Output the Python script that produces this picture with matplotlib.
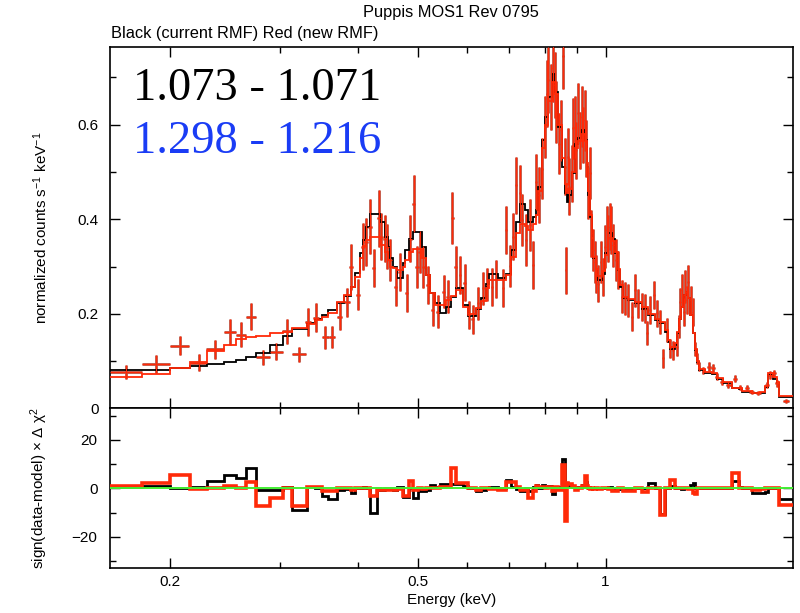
"""
Puppis MOS1 Rev 0795: spectrum with two RMFs (top) and sign*delta-chi2 residuals (bottom).
"""

import matplotlib
matplotlib.use("Agg")
import matplotlib.pyplot as plt
import numpy as np
from matplotlib.ticker import FixedLocator, FixedFormatter, NullFormatter

plt.rcParams["font.family"] = ["Liberation Sans", "DejaVu Sans"]
plt.rcParams["mathtext.fontset"] = "custom"
plt.rcParams["mathtext.rm"] = "Liberation Sans"
plt.rcParams["mathtext.it"] = "Liberation Sans:italic"

# Model bins (keV edges), folded models and residuals per bin
bin_edges = [
    0.160, 0.180, 0.200, 0.215, 0.229, 0.244, 0.255, 0.265, 0.275, 0.289,
    0.303, 0.314, 0.331, 0.341, 0.350, 0.358, 0.370, 0.380, 0.390, 0.396,
    0.403, 0.408, 0.413, 0.418, 0.430, 0.435, 0.442, 0.447, 0.451, 0.455,
    0.462, 0.472, 0.477, 0.484, 0.491, 0.499, 0.507, 0.514, 0.522, 0.532,
    0.542, 0.554, 0.564, 0.575, 0.590, 0.601, 0.619, 0.630, 0.642, 0.650,
    0.671, 0.692, 0.705, 0.717, 0.728, 0.742, 0.750, 0.764, 0.772, 0.778,
    0.790, 0.799, 0.808, 0.820, 0.829, 0.838, 0.851, 0.860, 0.866, 0.872,
    0.883, 0.893, 0.903, 0.916, 0.926, 0.933, 0.938, 0.944, 0.951, 0.956,
    0.965, 0.972, 0.986, 0.998, 1.009, 1.024, 1.035, 1.047, 1.054, 1.066,
    1.086, 1.115, 1.144, 1.170, 1.200, 1.223, 1.246, 1.259, 1.271, 1.293,
    1.302, 1.312, 1.324, 1.336, 1.346, 1.356, 1.366, 1.380, 1.390, 1.400,
    1.413, 1.444, 1.482, 1.510, 1.544, 1.596, 1.638, 1.656, 1.719, 1.770,
    1.803, 1.824, 1.858, 1.886, 1.900, 2.000,
]
model_current = [
    0.081, 0.082, 0.086, 0.090, 0.094, 0.099, 0.102, 0.109, 0.118, 0.134,
    0.153, 0.167, 0.180, 0.190, 0.197, 0.208, 0.222, 0.237, 0.256, 0.287,
    0.328, 0.356, 0.384, 0.412, 0.412, 0.395, 0.363, 0.342, 0.317, 0.299,
    0.275, 0.307, 0.335, 0.359, 0.373, 0.373, 0.342, 0.282, 0.243, 0.222,
    0.201, 0.215, 0.236, 0.254, 0.218, 0.195, 0.211, 0.233, 0.264, 0.285,
    0.275, 0.285, 0.335, 0.395, 0.433, 0.419, 0.395, 0.405, 0.419, 0.469,
    0.567, 0.617, 0.659, 0.708, 0.669, 0.595, 0.511, 0.455, 0.437, 0.451,
    0.497, 0.560, 0.571, 0.588, 0.567, 0.511, 0.451, 0.405, 0.356, 0.317,
    0.292, 0.271, 0.285, 0.328, 0.370, 0.359, 0.328, 0.292, 0.257, 0.233,
    0.229, 0.222, 0.211, 0.197, 0.187, 0.180, 0.162, 0.141, 0.125, 0.135,
    0.160, 0.190, 0.215, 0.240, 0.247, 0.233, 0.197, 0.159, 0.123, 0.099,
    0.081, 0.075, 0.073, 0.063, 0.053, 0.042, 0.040, 0.035, 0.032, 0.033,
    0.046, 0.070, 0.063, 0.053, 0.025,
]
model_new = [
    0.066, 0.073, 0.086, 0.099, 0.121, 0.135, 0.146, 0.150, 0.154, 0.159,
    0.161, 0.170, 0.178, 0.186, 0.194, 0.202, 0.225, 0.240, 0.257, 0.278,
    0.317, 0.343, 0.356, 0.363, 0.363, 0.345, 0.330, 0.314, 0.300, 0.296,
    0.292, 0.300, 0.314, 0.331, 0.336, 0.336, 0.317, 0.282, 0.244, 0.218,
    0.218, 0.229, 0.238, 0.250, 0.215, 0.200, 0.212, 0.228, 0.255, 0.271,
    0.271, 0.283, 0.320, 0.370, 0.390, 0.385, 0.377, 0.390, 0.410, 0.460,
    0.550, 0.600, 0.650, 0.690, 0.665, 0.600, 0.530, 0.475, 0.455, 0.465,
    0.500, 0.550, 0.565, 0.580, 0.565, 0.520, 0.460, 0.410, 0.360, 0.320,
    0.295, 0.280, 0.290, 0.325, 0.360, 0.355, 0.330, 0.295, 0.260, 0.235,
    0.232, 0.225, 0.214, 0.200, 0.190, 0.182, 0.165, 0.145, 0.130, 0.138,
    0.162, 0.190, 0.215, 0.240, 0.247, 0.233, 0.198, 0.160, 0.125, 0.101,
    0.083, 0.077, 0.075, 0.065, 0.055, 0.044, 0.042, 0.037, 0.033, 0.034,
    0.047, 0.074, 0.066, 0.056, 0.027,
]
resid_current = [
    0.6, 0.8, 0.2, 0.4, 2.9, 5.6, 4.3, 8.4, -0.5, -0.8,
    0.4, -8.8, 0.4, 0.3, -3.3, -4.6, -0.5, -0.3, -1.9, 0.2,
    0.3, 0.5, 0.2, -10.1, 0.3, -0.5, 0.3, -0.3, 0.2, -0.5,
    0.5, -3.6, -3.6, 0.3, -4.0, -1.2, -1.2, -0.5, 1.5, 0.5,
    1.8, 1.8, 1.8, 1.8, 0.8, 0.3, -1.3, -0.5, 0.0, 0.5,
    0.3, 3.3, 0.5, -0.3, -1.0, 0.3, -1.0, 0.5, 1.2, 0.3,
    1.5, 0.5, 0.8, -2.5, 0.3, 0.5, 12.0, 2.0, 2.0, 1.5,
    0.5, 0.3, 0.5, 1.5, 2.5, 0.5, 0.3, 0.2, 0.0, 0.3,
    0.0, 0.2, 0.0, 0.3, 0.5, 0.0, 0.2, -0.3, 0.0, 0.3,
    0.0, 0.3, 0.0, 2.0, 0.0, -10.5, 0.3, 0.3, 0.8, 0.0,
    0.3, 0.0, -0.3, 0.3, 0.0, 0.3, 1.5, 2.0, 0.3, 0.3,
    0.0, 0.0, 0.3, 0.0, 0.2, 2.9, 0.5, 0.0, -1.9, -1.9,
    -1.5, 0.0, 0.3, 0.0, -4.6,
]
resid_new = [
    1.1, 2.2, 5.6, -0.3, 0.1, 0.8, 0.2, 2.5, -7.4, -4.2,
    0.1, -7.1, 0.6, 0.5, -1.2, -1.2, 0.3, 0.2, -0.8, 0.0,
    0.2, 0.3, 0.1, -3.3, -0.3, -0.5, -0.3, -0.8, -0.5, -0.8,
    -0.3, -3.3, -3.3, 2.9, -0.8, 0.2, -0.3, 0.0, 0.3, 0.2,
    0.5, 0.5, 8.4, 2.3, 2.2, 0.0, -0.5, 0.3, 0.3, -0.3,
    -0.5, 2.5, 2.5, 0.5, -0.5, -0.5, -4.0, -1.0, 1.0, 0.5,
    0.5, 0.3, 0.5, -1.0, 0.5, -0.5, 9.7, -13.5, 2.0, 1.8,
    1.0, -0.5, 0.2, 1.0, 5.0, 0.8, 0.3, -0.3, 0.2, -0.3,
    0.3, -0.3, 0.0, 0.2, -0.3, -1.2, -1.2, 0.0, 0.3, -1.0,
    -1.0, 0.0, -1.5, 0.3, 0.0, -11.2, 0.3, 0.0, 3.5, 0.3,
    0.0, 0.3, 0.2, 0.0, 0.2, -0.3, -0.3, -2.0, -2.5, 0.0,
    0.3, 0.0, 0.2, 0.0, 0.0, 6.3, 0.3, 0.0, -0.5, -0.3,
    0.0, 0.3, 0.0, 0.0, -6.7,
]

# Data points (new RMF): energy, half bin width, rate, 1-sigma error
data_energy = [
    0.170, 0.190, 0.207, 0.222, 0.236, 0.249, 0.260, 0.270, 0.282, 0.296,
    0.308, 0.322, 0.333, 0.343, 0.355, 0.364, 0.374, 0.384, 0.390, 0.400,
    0.408, 0.413, 0.418, 0.424, 0.432, 0.436, 0.442, 0.446, 0.451, 0.460,
    0.467, 0.479, 0.486, 0.492, 0.498, 0.503, 0.510, 0.518, 0.528, 0.538,
    0.550, 0.558, 0.567, 0.575, 0.584, 0.594, 0.603, 0.612, 0.624, 0.636,
    0.645, 0.656, 0.668, 0.684, 0.693, 0.702, 0.710, 0.718, 0.728, 0.735,
    0.746, 0.756, 0.764, 0.773, 0.781, 0.792, 0.799, 0.804, 0.809, 0.816,
    0.822, 0.829, 0.834, 0.842, 0.847, 0.855, 0.860, 0.863, 0.871, 0.874,
    0.882, 0.887, 0.893, 0.898, 0.904, 0.909, 0.915, 0.920, 0.926, 0.932,
    0.938, 0.944, 0.949, 0.955, 0.961, 0.967, 0.973, 0.982, 0.989, 0.998,
    1.004, 1.010, 1.016, 1.022, 1.029, 1.038, 1.048, 1.061, 1.074, 1.087,
    1.101, 1.115, 1.128, 1.143, 1.157, 1.167, 1.178, 1.196, 1.208, 1.223,
    1.238, 1.253, 1.269, 1.284, 1.301, 1.312, 1.317, 1.325, 1.336, 1.344,
    1.350, 1.358, 1.370, 1.380, 1.392, 1.401, 1.414, 1.435, 1.467, 1.489,
    1.508, 1.537, 1.575, 1.614, 1.644, 1.686, 1.717, 1.760, 1.815, 1.837,
    1.865, 1.888, 1.950,
]
data_halfwidth = [
    0.010, 0.010, 0.0075, 0.007, 0.0075, 0.0055, 0.005, 0.005, 0.007, 0.007,
    0.0055, 0.008, 0.004, 0.004, 0.004, 0.004, 0.004, 0.004, 0.003, 0.003,
    0.003, 0.003, 0.003, 0.003, 0.003, 0.003, 0.003, 0.003, 0.003, 0.003,
    0.003, 0.003, 0.003, 0.003, 0.003, 0.003, 0.003, 0.003, 0.003, 0.003,
    0.003, 0.003, 0.003, 0.003, 0.003, 0.003, 0.003, 0.003, 0.003, 0.003,
    0.0025, 0.0025, 0.0025, 0.0025, 0.0025, 0.0025, 0.0025, 0.0025, 0.0025, 0.0025,
    0.0025, 0.0025, 0.0025, 0.0025, 0.0025, 0.0025, 0.0025, 0.0025, 0.0025, 0.0025,
    0.0025, 0.0025, 0.0025, 0.0025, 0.0025, 0.0025, 0.0025, 0.0025, 0.0025, 0.0025,
    0.0025, 0.0025, 0.0025, 0.0025, 0.0025, 0.0025, 0.0025, 0.0025, 0.0025, 0.0025,
    0.0025, 0.0025, 0.0025, 0.0025, 0.0025, 0.0025, 0.0025, 0.0025, 0.0025, 0.0025,
    0.004, 0.004, 0.004, 0.004, 0.004, 0.004, 0.004, 0.004, 0.004, 0.004,
    0.004, 0.004, 0.004, 0.004, 0.004, 0.004, 0.004, 0.004, 0.004, 0.004,
    0.004, 0.004, 0.004, 0.004, 0.004, 0.004, 0.004, 0.004, 0.004, 0.004,
    0.004, 0.004, 0.004, 0.004, 0.005, 0.005, 0.006, 0.008, 0.010, 0.010,
    0.010, 0.012, 0.014, 0.014, 0.014, 0.014, 0.014, 0.014, 0.014, 0.014,
    0.014, 0.014, 0.020,
]
data_rate = [
    0.077, 0.094, 0.132, 0.096, 0.125, 0.162, 0.156, 0.194, 0.108, 0.120,
    0.163, 0.114, 0.183, 0.192, 0.150, 0.151, 0.194, 0.224, 0.299, 0.240,
    0.342, 0.352, 0.384, 0.296, 0.402, 0.363, 0.359, 0.342, 0.314, 0.257,
    0.289, 0.244, 0.359, 0.433, 0.299, 0.331, 0.299, 0.261, 0.209, 0.204,
    0.247, 0.236, 0.402, 0.299, 0.282, 0.266, 0.197, 0.188, 0.222, 0.254,
    0.261, 0.257, 0.273, 0.254, 0.377, 0.301, 0.363, 0.472, 0.455, 0.398,
    0.356, 0.388, 0.303, 0.479, 0.451, 0.507, 0.595, 0.666, 0.694, 0.659,
    0.719, 0.684, 0.627, 0.560, 0.588, 0.745, 0.511, 0.292, 0.532, 0.469,
    0.497, 0.592, 0.595, 0.546, 0.624, 0.567, 0.617, 0.578, 0.609, 0.550,
    0.455, 0.497, 0.370, 0.335, 0.310, 0.285, 0.264, 0.310, 0.278, 0.342,
    0.377, 0.359, 0.384, 0.377, 0.345, 0.314, 0.292, 0.236, 0.233, 0.229,
    0.194, 0.250, 0.222, 0.215, 0.211, 0.159, 0.208, 0.240, 0.201, 0.183,
    0.106, 0.166, 0.127, 0.123, 0.130, 0.173, 0.225, 0.250, 0.204, 0.257,
    0.229, 0.268, 0.229, 0.204, 0.125, 0.106, 0.088, 0.080, 0.088, 0.085,
    0.067, 0.056, 0.049, 0.063, 0.044, 0.044, 0.035, 0.032, 0.049, 0.070,
    0.074, 0.053, 0.016,
]
data_error = [
    0.014, 0.019, 0.020, 0.018, 0.020, 0.027, 0.026, 0.029, 0.016, 0.018,
    0.027, 0.016, 0.029, 0.030, 0.025, 0.024, 0.028, 0.030, 0.048, 0.033,
    0.050, 0.050, 0.058, 0.040, 0.060, 0.050, 0.050, 0.048, 0.045, 0.040,
    0.040, 0.040, 0.050, 0.060, 0.045, 0.045, 0.045, 0.040, 0.035, 0.035,
    0.035, 0.035, 0.055, 0.045, 0.040, 0.040, 0.030, 0.030, 0.035, 0.035,
    0.035, 0.040, 0.040, 0.040, 0.050, 0.045, 0.050, 0.060, 0.060, 0.055,
    0.055, 0.055, 0.050, 0.060, 0.060, 0.065, 0.065, 0.070, 0.070, 0.070,
    0.070, 0.070, 0.065, 0.065, 0.065, 0.070, 0.060, 0.050, 0.060, 0.060,
    0.060, 0.065, 0.065, 0.060, 0.065, 0.060, 0.065, 0.060, 0.065, 0.060,
    0.055, 0.055, 0.050, 0.045, 0.045, 0.040, 0.040, 0.045, 0.040, 0.045,
    0.050, 0.050, 0.050, 0.050, 0.045, 0.045, 0.040, 0.035, 0.035, 0.035,
    0.030, 0.035, 0.030, 0.030, 0.030, 0.025, 0.030, 0.030, 0.028, 0.025,
    0.020, 0.025, 0.020, 0.020, 0.020, 0.025, 0.030, 0.035, 0.030, 0.035,
    0.030, 0.035, 0.030, 0.030, 0.015, 0.012, 0.010, 0.008, 0.010, 0.008,
    0.007, 0.006, 0.006, 0.007, 0.005, 0.005, 0.004, 0.004, 0.006, 0.008,
    0.008, 0.007, 0.004,
]

fit_current = "1.073 - 1.071"
fit_new = "1.298 - 1.216"

RED = "#ff2a08"
DARK_RED = "#c0503f"


def style_axis(ax):
    ax.set_xscale("log")
    ax.set_xlim(0.16, 2.0)
    ax.xaxis.set_major_locator(FixedLocator([0.2, 0.5, 1.0]))
    ax.xaxis.set_minor_locator(FixedLocator([0.3, 0.4, 0.6, 0.7, 0.8, 0.9]))
    ax.xaxis.set_minor_formatter(NullFormatter())
    ax.tick_params(which="both", direction="in", top=True, right=True,
                   labelsize=11, width=1)
    ax.tick_params(which="major", length=7)
    ax.tick_params(which="minor", length=4)
    for s in ax.spines.values():
        s.set_linewidth(1.2)


def main() -> None:
    fig = plt.figure(figsize=(8.0, 6.13), dpi=100)
    ax1 = fig.add_axes([0.1375, 0.3339, 0.8537, 0.5899])
    ax2 = fig.add_axes([0.1375, 0.0729, 0.8537, 0.2610], sharex=ax1)

    edges = np.array(bin_edges)

    # Top: spectrum
    style_axis(ax1)
    ax1.errorbar(data_energy, data_rate, yerr=data_error, xerr=data_halfwidth,
                 fmt="none", ecolor=DARK_RED, elinewidth=2.0, capsize=0, zorder=2)
    ax1.stairs(model_current, edges, baseline=None, color="black", lw=1.3, zorder=3)
    ax1.errorbar(data_energy, data_rate, yerr=data_error, xerr=data_halfwidth,
                 fmt="none", ecolor=RED, elinewidth=0.8, capsize=0, zorder=4)
    ax1.stairs(model_new, edges, baseline=None, color=RED, lw=1.3, zorder=5)
    ax1.set_ylim(0, 0.765)
    ax1.yaxis.set_major_locator(FixedLocator([0, 0.2, 0.4, 0.6]))
    ax1.yaxis.set_major_formatter(FixedFormatter(["0", "0.2", "0.4", "0.6"]))
    ax1.yaxis.set_minor_locator(FixedLocator([0.1, 0.3, 0.5, 0.7]))
    ax1.tick_params(axis="x", labelbottom=False)
    ax1.tick_params(axis="y", pad=8)
    ax1.set_ylabel("normalized counts s$^{-1}$ keV$^{-1}$", fontsize=11)
    ax1.yaxis.set_label_coords(-0.088, 0.5)

    ax1.text(0.034, 0.853, fit_current, transform=ax1.transAxes, color="black",
             fontsize=33.5, family="Liberation Serif", va="baseline", ha="left")
    ax1.text(0.034, 0.707, fit_new, transform=ax1.transAxes, color="#1a3cf5",
             fontsize=33.5, family="Liberation Serif", va="baseline", ha="left")

    # Bottom: residuals
    style_axis(ax2)
    ax2.stairs(resid_current, edges, baseline=None, color="black", lw=2.0, zorder=3)
    ax2.stairs(resid_new, edges, baseline=None, color=RED, lw=2.6, zorder=4)
    ax2.axhline(0, color="#44ee33", lw=1.4, zorder=5)
    ax2.set_ylim(-33, 33)
    ax2.yaxis.set_major_locator(FixedLocator([-20, 0, 20]))
    ax2.yaxis.set_major_formatter(FixedFormatter(["\u221220", "0", "20"]))
    ax2.yaxis.set_minor_locator(FixedLocator([-30, -10, 10, 30]))
    ax2.xaxis.set_major_formatter(FixedFormatter(["0.2", "0.5", "1"]))
    ax2.tick_params(axis="y", pad=9)
    ax2.tick_params(axis="x", pad=5)
    ax2.set_ylabel("sign(data-model) \u00d7 \u0394 \u03c7$^{2}$", fontsize=11)
    ax2.yaxis.set_label_coords(-0.088, 0.5)
    ax2.set_xlabel("Energy (keV)", fontsize=11, labelpad=3)

    fig.text(0.564, 0.980, "Puppis MOS1 Rev 0795", ha="center", va="center", fontsize=11.8)
    fig.text(0.1385, 0.946, "Black (current RMF) Red (new RMF)", ha="left",
             va="center", fontsize=11.8)

    fig.savefig("out.png", dpi=100)
    plt.close(fig)


if __name__ == "__main__":
    main()
